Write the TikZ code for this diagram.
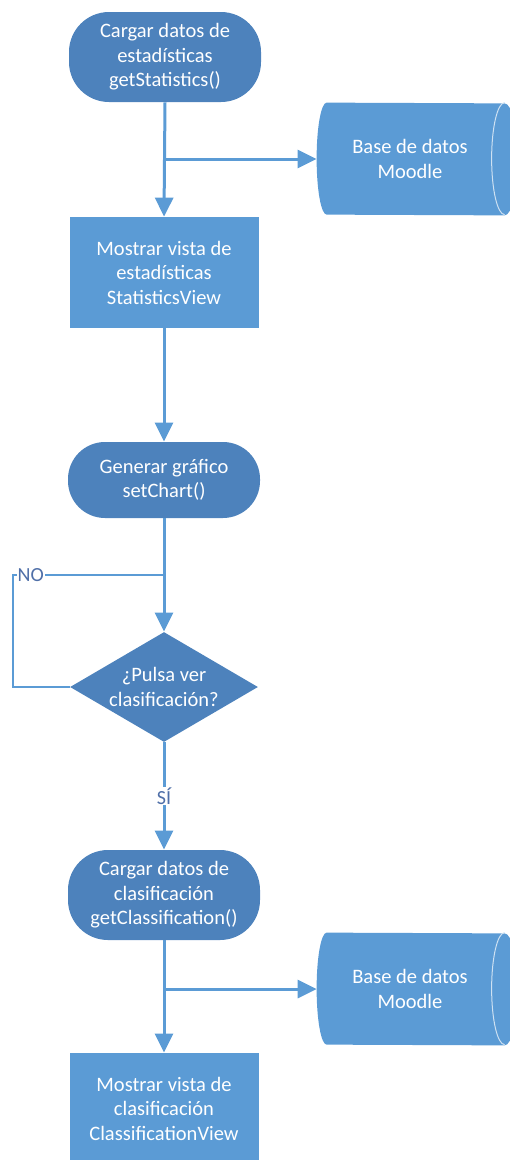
\documentclass[tikz,border=0pt]{standalone}
\usepackage{fontspec}
\setmainfont{Carlito}
\usetikzlibrary{shapes.geometric,arrows.meta,calc,backgrounds}
\definecolor{azul}{HTML}{5B9BD5}
\definecolor{azuloscuro}{HTML}{4D82BC}
\definecolor{etiqueta}{HTML}{4F6FA8}
\tikzset{every picture/.style={line width=0.75pt}}

\begin{document}
\begin{tikzpicture}[x=1pt,y=-1pt,
	texto/.style={text=white,align=center,font=\fontsize{20.5}{24.5}\selectfont},
	terminal/.style={texto,fill=azuloscuro,rounded corners=40pt,minimum width=192pt,inner sep=0pt},
	proceso/.style={texto,fill=azul,minimum width=189pt,minimum height=111pt,inner sep=0pt},
	decision/.style={texto,diamond,fill=azuloscuro,minimum width=188pt,minimum height=110pt,inner sep=-18pt},
	basedatos/.style={texto,minimum width=186pt,minimum height=112pt,inner sep=0pt},
	cilindro/.style={fill=azul},
	tapa/.style={draw=white!70!azul,line width=1pt},
	flecha/.style={draw=azul,line width=3pt,-{Triangle[length=19pt,width=18pt]}},
	linea/.style={draw=azul,line width=3pt},
	bucle/.style={draw=azul,line width=2pt},
	rotulo/.style={fill=white,text=etiqueta,inner sep=1pt,font=\fontsize{20}{24}\selectfont}]
	\useasboundingbox (0,0) rectangle (510,1160);
	\clip (0,0) rectangle (510,1160);
	%Cargar estadisticas
	\node[terminal,minimum height=90pt] (inicio) at (165,57) {Cargar datos de\\estadísticas\\getStatistics()};
	\node[basedatos] (bd1) at (410,159) {Base de datos\\Moodle};
	\node[proceso] (vista1) at (164,272.5) {Mostrar vista de\\estadísticas\\StatisticsView};
	%Grafico y pregunta
	\node[terminal,minimum height=76pt,rounded corners=37pt] (grafico) at (164,480) {Generar gráfico\\setChart()};
	\node[decision] (pulsa) at (164,687) {¿Pulsa ver\\clasificación?};
	%Cargar clasificacion
	\node[terminal,minimum height=90pt] (cargar) at (164,895) {Cargar datos de\\clasificación\\getClassification()};
	\node[basedatos] (bd2) at (410,989) {Base de datos\\Moodle};
	\node[proceso] (vista2) at (164,1108.5) {Mostrar vista de\\clasificación\\ClassificationView};
	%Cilindros
	\begin{pgfonlayer}{background}
		\fill[cilindro] ($(bd1.north west)+(10,0)$) arc[start angle=90,end angle=270,x radius=10pt,y radius=56pt]
			-- ($(bd1.south west)+(188,0)$) arc[start angle=-90,end angle=90,x radius=13pt,y radius=56pt] -- cycle;
		\draw[tapa] ($(bd1.north west)+(188,0)$) arc[start angle=90,end angle=270,x radius=13pt,y radius=56pt];
		\fill[cilindro] ($(bd2.north west)+(10,0)$) arc[start angle=90,end angle=270,x radius=10pt,y radius=56pt]
			-- ($(bd2.south west)+(188,0)$) arc[start angle=-90,end angle=90,x radius=13pt,y radius=56pt] -- cycle;
		\draw[tapa] ($(bd2.north west)+(188,0)$) arc[start angle=90,end angle=270,x radius=13pt,y radius=56pt];
	\end{pgfonlayer}
	%Uniones
	\coordinate (rama1) at (inicio.south |- bd1.west);
	\coordinate (rama2) at (cargar.south |- bd2.west);
	\coordinate (union) at ($(grafico.south)!0.5!(pulsa.north)$);
	%Flechas
	\draw[flecha] (inicio.south) -- (vista1.north);
	\draw[flecha] (rama1) -- (bd1.west);
	\draw[flecha] (vista1.south) -- (grafico.north);
	\draw[flecha] (grafico.south) -- (pulsa.north);
	\draw[bucle] (pulsa.west) -- ++(-57,0) |- node[rotulo,pos=0.56]{NO} (union);
	\draw[flecha] (pulsa.south) -- node[rotulo]{SÍ} (cargar.north);
	\draw[flecha] (cargar.south) -- (vista2.north);
	\draw[flecha] (rama2) -- (bd2.west);
\end{tikzpicture}
\end{document}
